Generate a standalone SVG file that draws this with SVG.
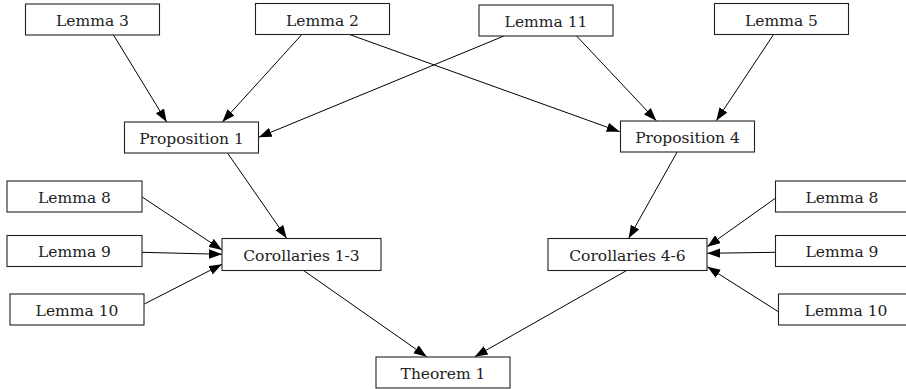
<svg xmlns="http://www.w3.org/2000/svg" width="906" height="389" viewBox="0 0 906 389">
<defs>
<marker id="arr" markerWidth="13" markerHeight="10" refX="13" refY="4.75" orient="auto" markerUnits="userSpaceOnUse">
<path d="M0,0 L13,4.75 L0,9.5 z" fill="#000"/>
</marker>
<style>
rect{fill:#fff;stroke:#222;stroke-width:1.1}
text{font-family:"DejaVu Serif","Liberation Serif",serif;font-size:15.5px;fill:#222;text-anchor:middle}
#edges line{stroke:#000;stroke-width:1;marker-end:url(#arr)}
</style>
</defs>
<rect x="0" y="0" width="906" height="389" style="fill:#fff;stroke:none"/>
<g id="edges">
<line x1="113.3" y1="34.7" x2="166.7" y2="122"/>
<line x1="301.7" y1="34.7" x2="222.3" y2="122"/>
<line x1="504.7" y1="35.7" x2="258.7" y2="137.3"/>
<line x1="350" y1="34.7" x2="619.7" y2="131.7"/>
<line x1="576.3" y1="35.7" x2="656.3" y2="120.7"/>
<line x1="773.7" y1="34.3" x2="716.3" y2="120.7"/>
<line x1="227.7" y1="153.3" x2="286.7" y2="238.3"/>
<line x1="677.3" y1="151.7" x2="628.7" y2="238.3"/>
<line x1="141.7" y1="196.7" x2="222" y2="250"/>
<line x1="141.7" y1="252.3" x2="222" y2="254.3"/>
<line x1="144.3" y1="304" x2="222" y2="264.3"/>
<line x1="303.3" y1="270.3" x2="426.7" y2="356.7"/>
<line x1="627" y1="270.3" x2="474.7" y2="356.7"/>
<line x1="775.3" y1="198.3" x2="707.3" y2="246.7"/>
<line x1="775.3" y1="252.3" x2="707.3" y2="253.3"/>
<line x1="778.3" y1="311.7" x2="707.3" y2="266.7"/>
</g>
<g id="lemma3"><rect x="25.5" y="4" width="134" height="31"/><text x="92.5" y="26">Lemma 3</text></g>
<g id="lemma2"><rect x="255.5" y="3.5" width="134" height="31"/><text x="322.5" y="25.5">Lemma 2</text></g>
<g id="lemma11"><rect x="479" y="5" width="134" height="31"/><text x="546" y="27">Lemma 11</text></g>
<g id="lemma5"><rect x="714.5" y="3.5" width="134" height="31"/><text x="781.5" y="25.5">Lemma 5</text></g>
<g id="prop1"><rect x="124.5" y="122" width="134" height="31"/><text x="191.5" y="143.5">Proposition 1</text></g>
<g id="prop4"><rect x="620.5" y="121" width="134" height="31"/><text x="687.5" y="142.5">Proposition 4</text></g>
<g id="lemma8l"><rect x="7" y="181" width="135" height="31"/><text x="74.5" y="202.5">Lemma 8</text></g>
<g id="lemma9l"><rect x="7" y="235.5" width="135" height="31"/><text x="74.5" y="257">Lemma 9</text></g>
<g id="lemma10l"><rect x="10" y="294" width="134" height="31"/><text x="77" y="315.5">Lemma 10</text></g>
<g id="cor13"><rect x="222" y="238.5" width="159" height="32"/><text x="301.5" y="260.5">Corollaries 1-3</text></g>
<g id="cor46"><rect x="548" y="238.5" width="159" height="32"/><text x="627.5" y="260.5">Corollaries 4-6</text></g>
<g id="thm1"><rect x="376" y="357" width="134" height="31"/><text x="443" y="378.5">Theorem 1</text></g>
<g id="lemma8r"><rect x="775.5" y="181" width="135" height="31"/><text x="842" y="202.5">Lemma 8</text></g>
<g id="lemma9r"><rect x="775.5" y="235.5" width="135" height="31"/><text x="842" y="257">Lemma 9</text></g>
<g id="lemma10r"><rect x="778.5" y="294" width="135" height="31"/><text x="846" y="315.5">Lemma 10</text></g>
</svg>
